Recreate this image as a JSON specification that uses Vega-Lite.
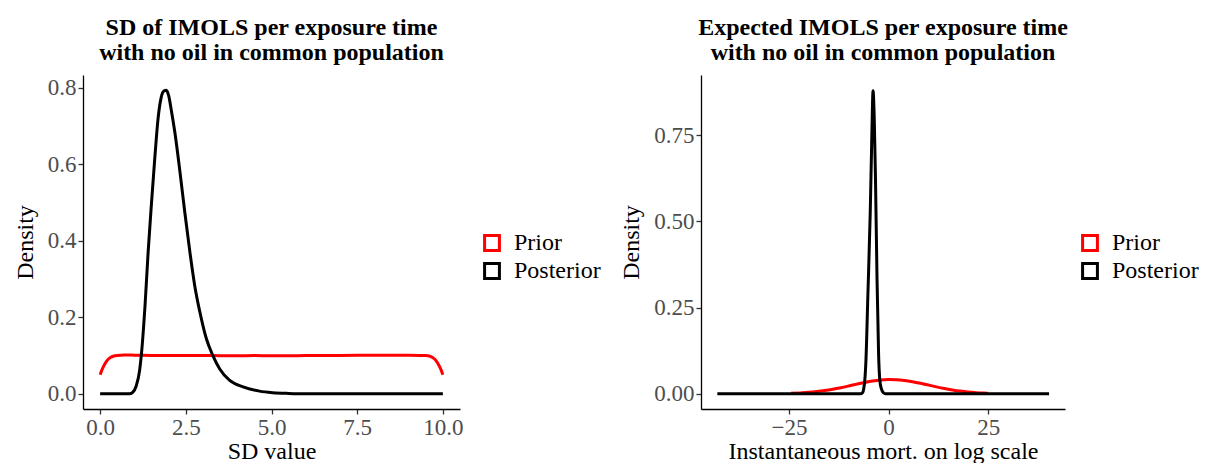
{
  "$schema": "https://vega.github.io/schema/vega-lite/v6.json",
  "padding": {"left": 13, "top": 16, "right": 0, "bottom": 0},
  "background": "white",
  "config": {
    "view": {"stroke": null},
    "font": "Liberation Serif",
    "style": {"guide-label": {"font": "Liberation Serif"}, "guide-title": {"font": "Liberation Serif"}, "group-title": {"font": "Liberation Serif"}},
    "axis": {
      "grid": false,
      "domainColor": "black",
      "domainWidth": 1.3,
      "tickColor": "#333333",
      "tickWidth": 1.3,
      "tickSize": 5,
      "labelFont": "Liberation Serif",
      "labelFontSize": 23,
      "labelColor": "#4D4D4D",
      "labelPadding": 2,
      "titleFont": "Liberation Serif",
      "titleFontSize": 24,
      "titleFontWeight": "normal",
      "titleColor": "black"
    },
    "axisY": {"titlePadding": 10, "labelFlush": false},
    "axisX": {"titlePadding": 0, "labelFlush": false},
    "title": {"font": "Liberation Serif", "fontSize": 24, "fontWeight": "bold", "color": "black", "anchor": "middle", "lineHeight": 25, "offset": 10},
    "legend": {
      "orient": "none",
      "title": null,
      "labelFont": "Liberation Serif",
      "labelFontSize": 24,
      "labelColor": "black",
      "symbolType": "square",
      "symbolSize": 220,
      "symbolStrokeWidth": 3,
      "symbolFillColor": "white",
      "rowPadding": 0,
      "labelOffset": 10,
      "padding": 0
    }
  },
  "datasets": {
    "sd": [
      {"x": 0, "density": 0.05, "series": "Prior"},
      {"x": 0.05, "density": 0.062, "series": "Prior"},
      {"x": 0.1, "density": 0.072, "series": "Prior"},
      {"x": 0.15, "density": 0.080, "series": "Prior"},
      {"x": 0.2, "density": 0.087, "series": "Prior"},
      {"x": 0.3, "density": 0.095, "series": "Prior"},
      {"x": 0.4, "density": 0.099, "series": "Prior"},
      {"x": 0.5, "density": 0.1005, "series": "Prior"},
      {"x": 0.7, "density": 0.1015, "series": "Prior"},
      {"x": 1, "density": 0.1012, "series": "Prior"},
      {"x": 1.5, "density": 0.1005, "series": "Prior"},
      {"x": 2, "density": 0.1002, "series": "Prior"},
      {"x": 2.5, "density": 0.1, "series": "Prior"},
      {"x": 3, "density": 0.1003, "series": "Prior"},
      {"x": 3.5, "density": 0.0998, "series": "Prior"},
      {"x": 4, "density": 0.0997, "series": "Prior"},
      {"x": 4.5, "density": 0.1, "series": "Prior"},
      {"x": 5, "density": 0.0996, "series": "Prior"},
      {"x": 5.5, "density": 0.0998, "series": "Prior"},
      {"x": 6, "density": 0.1, "series": "Prior"},
      {"x": 6.5, "density": 0.1002, "series": "Prior"},
      {"x": 7, "density": 0.1004, "series": "Prior"},
      {"x": 7.5, "density": 0.1008, "series": "Prior"},
      {"x": 8, "density": 0.1012, "series": "Prior"},
      {"x": 8.5, "density": 0.101, "series": "Prior"},
      {"x": 9, "density": 0.1006, "series": "Prior"},
      {"x": 9.3, "density": 0.1004, "series": "Prior"},
      {"x": 9.5, "density": 0.1, "series": "Prior"},
      {"x": 9.6, "density": 0.099, "series": "Prior"},
      {"x": 9.7, "density": 0.095, "series": "Prior"},
      {"x": 9.8, "density": 0.087, "series": "Prior"},
      {"x": 9.85, "density": 0.080, "series": "Prior"},
      {"x": 9.9, "density": 0.072, "series": "Prior"},
      {"x": 9.95, "density": 0.062, "series": "Prior"},
      {"x": 10, "density": 0.05, "series": "Prior"},
      {"x": 0, "density": 0, "series": "Posterior"},
      {"x": 0.5, "density": 0, "series": "Posterior"},
      {"x": 0.85, "density": 0, "series": "Posterior"},
      {"x": 0.95, "density": 0.004, "series": "Posterior"},
      {"x": 1.05, "density": 0.02, "series": "Posterior"},
      {"x": 1.15, "density": 0.06, "series": "Posterior"},
      {"x": 1.21, "density": 0.109, "series": "Posterior"},
      {"x": 1.31, "density": 0.231, "series": "Posterior"},
      {"x": 1.4, "density": 0.37, "series": "Posterior"},
      {"x": 1.5, "density": 0.501, "series": "Posterior"},
      {"x": 1.6, "density": 0.623, "series": "Posterior"},
      {"x": 1.69, "density": 0.72, "series": "Posterior"},
      {"x": 1.78, "density": 0.775, "series": "Posterior"},
      {"x": 1.86, "density": 0.792, "series": "Posterior"},
      {"x": 1.93, "density": 0.794, "series": "Posterior"},
      {"x": 2.0, "density": 0.78, "series": "Posterior"},
      {"x": 2.08, "density": 0.74, "series": "Posterior"},
      {"x": 2.18, "density": 0.684, "series": "Posterior"},
      {"x": 2.33, "density": 0.58, "series": "Posterior"},
      {"x": 2.47, "density": 0.475, "series": "Posterior"},
      {"x": 2.62, "density": 0.37, "series": "Posterior"},
      {"x": 2.76, "density": 0.283, "series": "Posterior"},
      {"x": 2.91, "density": 0.214, "series": "Posterior"},
      {"x": 3.1, "density": 0.144, "series": "Posterior"},
      {"x": 3.29, "density": 0.1, "series": "Posterior"},
      {"x": 3.49, "density": 0.065, "series": "Posterior"},
      {"x": 3.78, "density": 0.035, "series": "Posterior"},
      {"x": 4.17, "density": 0.018, "series": "Posterior"},
      {"x": 4.65, "density": 0.007, "series": "Posterior"},
      {"x": 5.04, "density": 0.003, "series": "Posterior"},
      {"x": 5.5, "density": 0.001, "series": "Posterior"},
      {"x": 6, "density": 0, "series": "Posterior"},
      {"x": 10, "density": 0, "series": "Posterior"}
    ],
    "mean": [
      {"x": -24.5, "density": 0.0013, "series": "Prior"},
      {"x": -22, "density": 0.0027, "series": "Prior"},
      {"x": -20, "density": 0.0042, "series": "Prior"},
      {"x": -18, "density": 0.0065, "series": "Prior"},
      {"x": -16, "density": 0.0095, "series": "Prior"},
      {"x": -14, "density": 0.0133, "series": "Prior"},
      {"x": -12, "density": 0.0178, "series": "Prior"},
      {"x": -10, "density": 0.0228, "series": "Prior"},
      {"x": -8, "density": 0.028, "series": "Prior"},
      {"x": -6, "density": 0.033, "series": "Prior"},
      {"x": -4, "density": 0.0372, "series": "Prior"},
      {"x": -2, "density": 0.0401, "series": "Prior"},
      {"x": 0, "density": 0.0414, "series": "Prior"},
      {"x": 2, "density": 0.041, "series": "Prior"},
      {"x": 4, "density": 0.0388, "series": "Prior"},
      {"x": 6, "density": 0.0352, "series": "Prior"},
      {"x": 8, "density": 0.0306, "series": "Prior"},
      {"x": 10, "density": 0.0254, "series": "Prior"},
      {"x": 12, "density": 0.0202, "series": "Prior"},
      {"x": 14, "density": 0.0154, "series": "Prior"},
      {"x": 16, "density": 0.0113, "series": "Prior"},
      {"x": 18, "density": 0.0079, "series": "Prior"},
      {"x": 20, "density": 0.0053, "series": "Prior"},
      {"x": 22, "density": 0.0034, "series": "Prior"},
      {"x": 24, "density": 0.0021, "series": "Prior"},
      {"x": 25, "density": 0.0017, "series": "Prior"},
      {"x": -43, "density": 0, "series": "Posterior"},
      {"x": -10, "density": 0, "series": "Posterior"},
      {"x": -7.1, "density": 0, "series": "Posterior"},
      {"x": -6.5, "density": 0.004, "series": "Posterior"},
      {"x": -6.25, "density": 0.014, "series": "Posterior"},
      {"x": -5.9, "density": 0.05, "series": "Posterior"},
      {"x": -5.7, "density": 0.092, "series": "Posterior"},
      {"x": -5.2, "density": 0.285, "series": "Posterior"},
      {"x": -4.6, "density": 0.527, "series": "Posterior"},
      {"x": -4.2, "density": 0.75, "series": "Posterior"},
      {"x": -3.9, "density": 0.878, "series": "Posterior"},
      {"x": -3.6, "density": 0.8, "series": "Posterior"},
      {"x": -3.3, "density": 0.632, "series": "Posterior"},
      {"x": -2.9, "density": 0.333, "series": "Posterior"},
      {"x": -2.5, "density": 0.111, "series": "Posterior"},
      {"x": -2.2, "density": 0.04, "series": "Posterior"},
      {"x": -1.8, "density": 0.014, "series": "Posterior"},
      {"x": -1.3, "density": 0.003, "series": "Posterior"},
      {"x": -0.8, "density": 0, "series": "Posterior"},
      {"x": 40.3, "density": 0, "series": "Posterior"}
    ]
  },
  "hconcat": [
    {
      "title": {"text": ["SD of IMOLS per exposure time", "with no oil in common population"]},
      "width": 377,
      "height": 334,
      "data": {"name": "sd"},
      "encoding": {
        "x": {"field": "x", "type": "quantitative", "scale": {"domain": [-0.5, 10.5], "nice": false, "zero": false}, "axis": {"title": "SD value", "values": [0, 2.5, 5, 7.5, 10], "format": ".1f"}},
        "y": {"field": "density", "type": "quantitative", "scale": {"domain": [-0.0397, 0.834], "nice": false, "zero": false}, "axis": {"title": "Density", "values": [0, 0.2, 0.4, 0.6, 0.8], "format": ".1f"}},
        "color": {"field": "series", "type": "nominal", "scale": {"domain": ["Prior", "Posterior"], "range": ["#FF0000", "#000000"]}, "legend": {"legendX": 397, "legendY": 156}}
      },
      "layer": [
        {"transform": [{"filter": "datum.series === 'Prior'"}], "mark": {"type": "line", "strokeWidth": 3, "interpolate": "monotone"}},
        {"transform": [{"filter": "datum.series === 'Posterior'"}], "mark": {"type": "line", "strokeWidth": 3, "interpolate": "monotone"}}
      ]
    },
    {
      "title": {"text": ["Expected IMOLS per exposure time", "with no oil in common population"]},
      "width": 364,
      "height": 334,
      "data": {"name": "mean"},
      "encoding": {
        "x": {"field": "x", "type": "quantitative", "scale": {"domain": [-47.1, 44.3], "nice": false, "zero": false}, "axis": {"title": "Instantaneous mort. on log scale", "values": [-25, 0, 25]}},
        "y": {"field": "density", "type": "quantitative", "scale": {"domain": [-0.044, 0.924], "nice": false, "zero": false}, "axis": {"title": "Density", "values": [0, 0.25, 0.5, 0.75], "format": ".2f"}},
        "color": {"field": "series", "type": "nominal", "scale": {"domain": ["Prior", "Posterior"], "range": ["#FF0000", "#000000"]}, "legend": {"legendX": 377, "legendY": 156}}
      },
      "layer": [
        {"transform": [{"filter": "datum.series === 'Prior'"}], "mark": {"type": "line", "strokeWidth": 3, "interpolate": "monotone"}},
        {"transform": [{"filter": "datum.series === 'Posterior'"}], "mark": {"type": "line", "strokeWidth": 3, "interpolate": "monotone"}}
      ]
    }
  ],
  "resolve": {"scale": {"color": "independent"}, "legend": {"color": "independent"}},
  "spacing": 18
}
